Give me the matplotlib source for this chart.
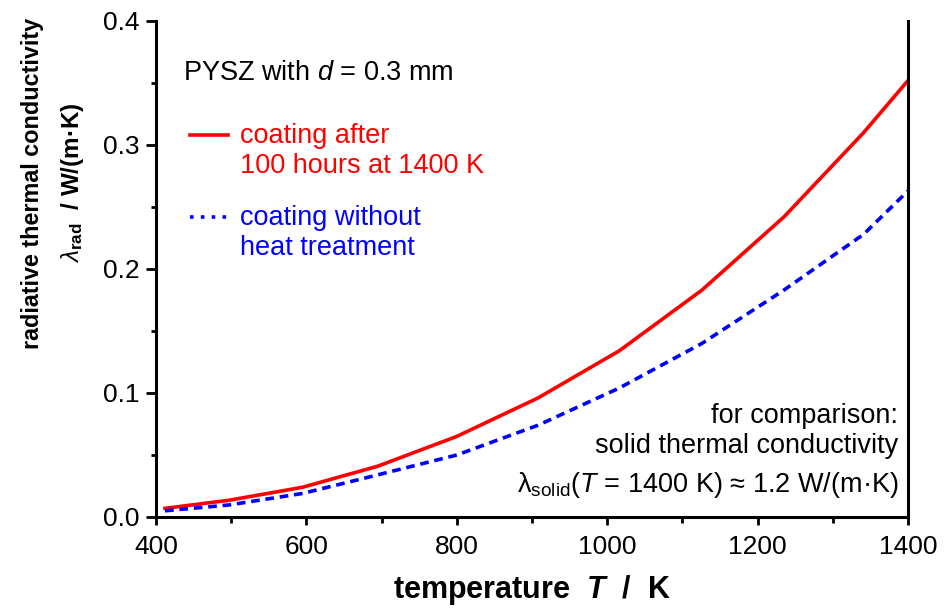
import matplotlib
matplotlib.use("Agg")
import matplotlib.pyplot as plt
from matplotlib.ticker import MultipleLocator, FormatStrFormatter

plt.rcParams['font.family'] = ['Liberation Sans', 'DejaVu Sans']
plt.rcParams['mathtext.fontset'] = 'custom'
plt.rcParams['mathtext.rm'] = 'Liberation Sans'
plt.rcParams['mathtext.it'] = 'Liberation Sans:italic'
plt.rcParams['mathtext.bf'] = 'Liberation Sans:bold'
plt.rcParams['mathtext.bfit'] = 'Liberation Sans:bold:italic'

# temperature points (K) and radiative conductivity (W/(m.K))
T = [412, 497, 595, 695, 800, 908, 1016, 1126, 1235, 1341, 1400]
lam_after = [0.007, 0.0135, 0.024, 0.041, 0.065, 0.096, 0.134, 0.183, 0.242, 0.310, 0.352]
lam_without = [0.005, 0.0097, 0.019, 0.034, 0.050, 0.074, 0.104, 0.140, 0.183, 0.228, 0.263]

fig = plt.figure(figsize=(9.45, 6.09), dpi=100)
ax = fig.add_axes([156/945, 92/609, 752/945, 496/609])

ax.plot(T, lam_after, color='#ff0000', lw=2.6)
ax.plot(T, lam_without, color='#0000ff', lw=2.6, dashes=(2.4, 1.6))

ax.set_xlim(400, 1400)
ax.set_ylim(0, 0.4)
ax.xaxis.set_major_locator(MultipleLocator(200))
ax.xaxis.set_minor_locator(MultipleLocator(100))
ax.yaxis.set_major_locator(MultipleLocator(0.1))
ax.yaxis.set_minor_locator(MultipleLocator(0.05))
ax.yaxis.set_major_formatter(FormatStrFormatter('%.1f'))

for s in ['left', 'bottom', 'right']:
    ax.spines[s].set_linewidth(2.2)
ax.spines['top'].set_visible(False)
ax.tick_params(which='both', direction='out', width=2, labelsize=19, top=False, right=False)
ax.tick_params(axis='y', which='major', length=7, pad=5)
ax.tick_params(axis='y', which='minor', length=3.5)
ax.tick_params(axis='x', which='major', length=6, pad=7)
ax.tick_params(axis='x', which='minor', length=4.5)

ax.set_xlabel(r'temperature  $\mathbfit{T}$  /  K', fontsize=22, fontweight='bold', labelpad=10)
fig.text(33/945, 1 - 183/609, 'radiative thermal conductivity', rotation=90,
         ha='center', va='center', fontsize=16.8, fontweight='bold')
fig.text(72/945, 1 - 183/609, r'$\mathit{\lambda}_{\mathbf{rad}}$  / W/(m·K)', rotation=90,
         ha='center', va='center', fontsize=17.5, fontweight='bold')

ax.text(0.036, 0.895, r'PYSZ with $d$ = 0.3 mm', transform=ax.transAxes,
        fontsize=19.5, va='center', ha='left')

ax.plot([0.045, 0.096], [0.770, 0.770], transform=ax.transAxes, color='#ff0000', lw=2.6)
ax.text(0.112, 0.738, 'coating after\n100 hours at 1400 K', transform=ax.transAxes,
        fontsize=19.5, color='#ff0000', va='center', ha='left', linespacing=1.2)
ax.plot([0.045, 0.096], [0.605, 0.605], transform=ax.transAxes, color='#0000ff', lw=2.6,
        dashes=(1.0, 2.0))
ax.text(0.112, 0.573, 'coating without\nheat treatment', transform=ax.transAxes,
        fontsize=19.5, color='#0000ff', va='center', ha='left', linespacing=1.2)

ax.text(0.987, 0.173, 'for comparison:\nsolid thermal conductivity', transform=ax.transAxes,
        fontsize=19.5, va='center', ha='right', linespacing=1.2)
ax.text(0.987, 0.065, r'$\mathrm{\lambda}_{\mathrm{solid}}$($T$ = 1400 K) ≈ 1.2 W/(m·K)',
        transform=ax.transAxes, fontsize=19.5, va='center', ha='right')

fig.savefig('out.png', dpi=100)
